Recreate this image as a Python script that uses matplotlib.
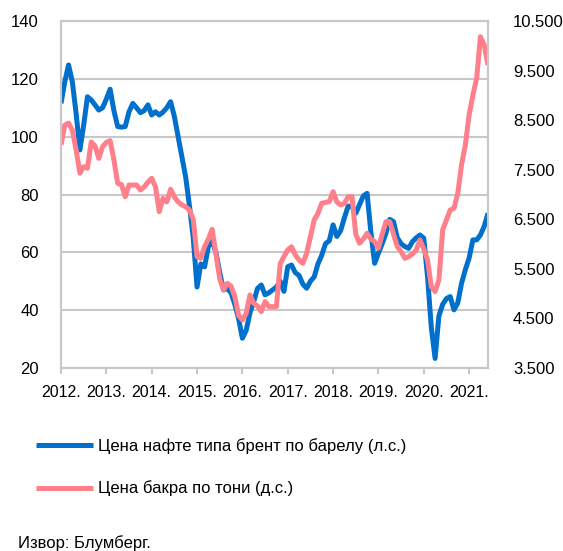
import matplotlib.pyplot as plt
from matplotlib.ticker import FuncFormatter

plt.rcParams['font.family'] = ['Liberation Sans', 'DejaVu Sans']

# monthly values, Jan 2012 .. Jun 2021
brent = [111.5, 119, 124.8, 119, 108, 95.4, 104, 113.8, 112.7, 111, 109.2, 110,
         113, 116.4, 109, 103.5, 103.3, 103.5, 108.6, 111.5, 110, 108.3, 109, 111,
         107.5, 108.6, 107.5, 108.5, 110, 112.1, 107, 100, 93, 86, 76, 65,
         48, 56, 55, 62, 64, 60, 53, 47, 47.5, 46, 42, 37,
         30.3, 33, 39, 43, 47.5, 48.7, 45.3, 46, 47, 48, 50, 46.5,
         55, 55.6, 53, 52, 49, 47.6, 50, 51.5, 56, 59, 63, 64,
         69.5, 65.5, 67.5, 72, 76, 75.8, 73.5, 76.5, 79.5, 80.4, 67, 56.2,
         59.7, 63, 66.6, 71.4, 70.6, 65, 63, 62, 61.4, 63.7, 65, 66,
         64.9, 51.6, 34, 23.3, 38, 42, 44, 44.7, 40.1, 42.5, 49.3, 54,
         58, 64.3, 64.3, 66, 69, 73.5]

copper = [8000, 8400, 8440, 8300, 7900, 7430, 7560, 7530, 8060, 7980, 7730, 7965,
          8050, 8086, 7700, 7226, 7200, 6956, 7192, 7190, 7192, 7091, 7150, 7250,
          7327, 7157, 6654, 6924, 6850, 7105, 6950, 6850, 6789, 6750, 6688, 6500,
          5746, 5713, 5947, 6100, 6298, 5800, 5300, 5074, 5208, 5150, 4939, 4560,
          4469, 4600, 4973, 4806, 4750, 4637, 4839, 4738, 4738, 4738, 5600, 5750,
          5881, 5947, 5780, 5679, 5612, 5814, 6149, 6486, 6621, 6823, 6840, 6856,
          7057, 6850, 6789, 6820, 6956, 6956, 6200, 6016, 6100, 6218, 6100, 6049,
          5915, 6200, 6452, 6452, 6200, 5948, 5847, 5713, 5746, 5800, 5881, 6083,
          5900, 5679, 5141, 5040, 5276, 6284, 6486, 6688, 6722, 7024, 7600, 8000,
          8604, 9007, 9344, 10183, 10016, 9613]

years = ['2012.', '2013.', '2014.', '2015.', '2016.', '2017.', '2018.', '2019.', '2020.', '2021.']
left_ticks = [20, 40, 60, 80, 100, 120, 140]
right_ticks = [3500, 4500, 5500, 6500, 7500, 8500, 9500, 10500]

BLUE = '#0070CC'
PINK = '#FF7F8A'
GRID = '#C8C8C8'

fig = plt.figure(figsize=(5.63, 5.51), dpi=100)
ax = fig.add_axes([61 / 563, 1 - 368 / 551, 427 / 563, 347 / 551])
ax2 = ax.twinx()

months = list(range(len(brent)))
l1, = ax.plot(months, brent, color=BLUE, lw=3.6, solid_capstyle='butt', solid_joinstyle='round')
l2, = ax2.plot(months, copper, color=PINK, lw=3.6, solid_capstyle='butt', solid_joinstyle='round')

ax.set_xlim(0, len(brent) - 1)
ax.set_ylim(20, 140)
ax2.set_ylim(3500, 10500)
ax.set_yticks(left_ticks)
ax2.set_yticks(right_ticks)
ax2.yaxis.set_major_formatter(FuncFormatter(lambda v, p: f'{int(v):,}'.replace(',', '.')))
ax.set_xticks(range(0, 12 * len(years), 12))
ax.set_xticklabels(years)

ax.grid(axis='y', color=GRID, lw=1.5)
ax.set_axisbelow(True)
for a in (ax, ax2):
    for s in a.spines.values():
        s.set_color(GRID)
        s.set_linewidth(1.5)
ax.tick_params(axis='y', length=0, pad=16, labelsize=12)
ax2.tick_params(axis='y', length=0, pad=18, labelsize=12)
ax.tick_params(axis='x', length=4, width=1.5, color=GRID, pad=8, labelsize=11.5)

fig.legend([l1, l2], ['Цена нафте типа брент по барелу (л.с.)', 'Цена бакра по тони (д.с.)'],
           loc='upper left', bbox_to_anchor=(36 / 563, 1 - 438 / 551), frameon=False,
           fontsize=12, handlelength=3.4, handletextpad=0.3, labelspacing=1.6,
           borderpad=0, borderaxespad=0)

fig.text(18 / 563, 1 - 543 / 551, 'Извор: Блумберг.', fontsize=12, va='center', ha='left')

fig.savefig('out.png', dpi=100)
